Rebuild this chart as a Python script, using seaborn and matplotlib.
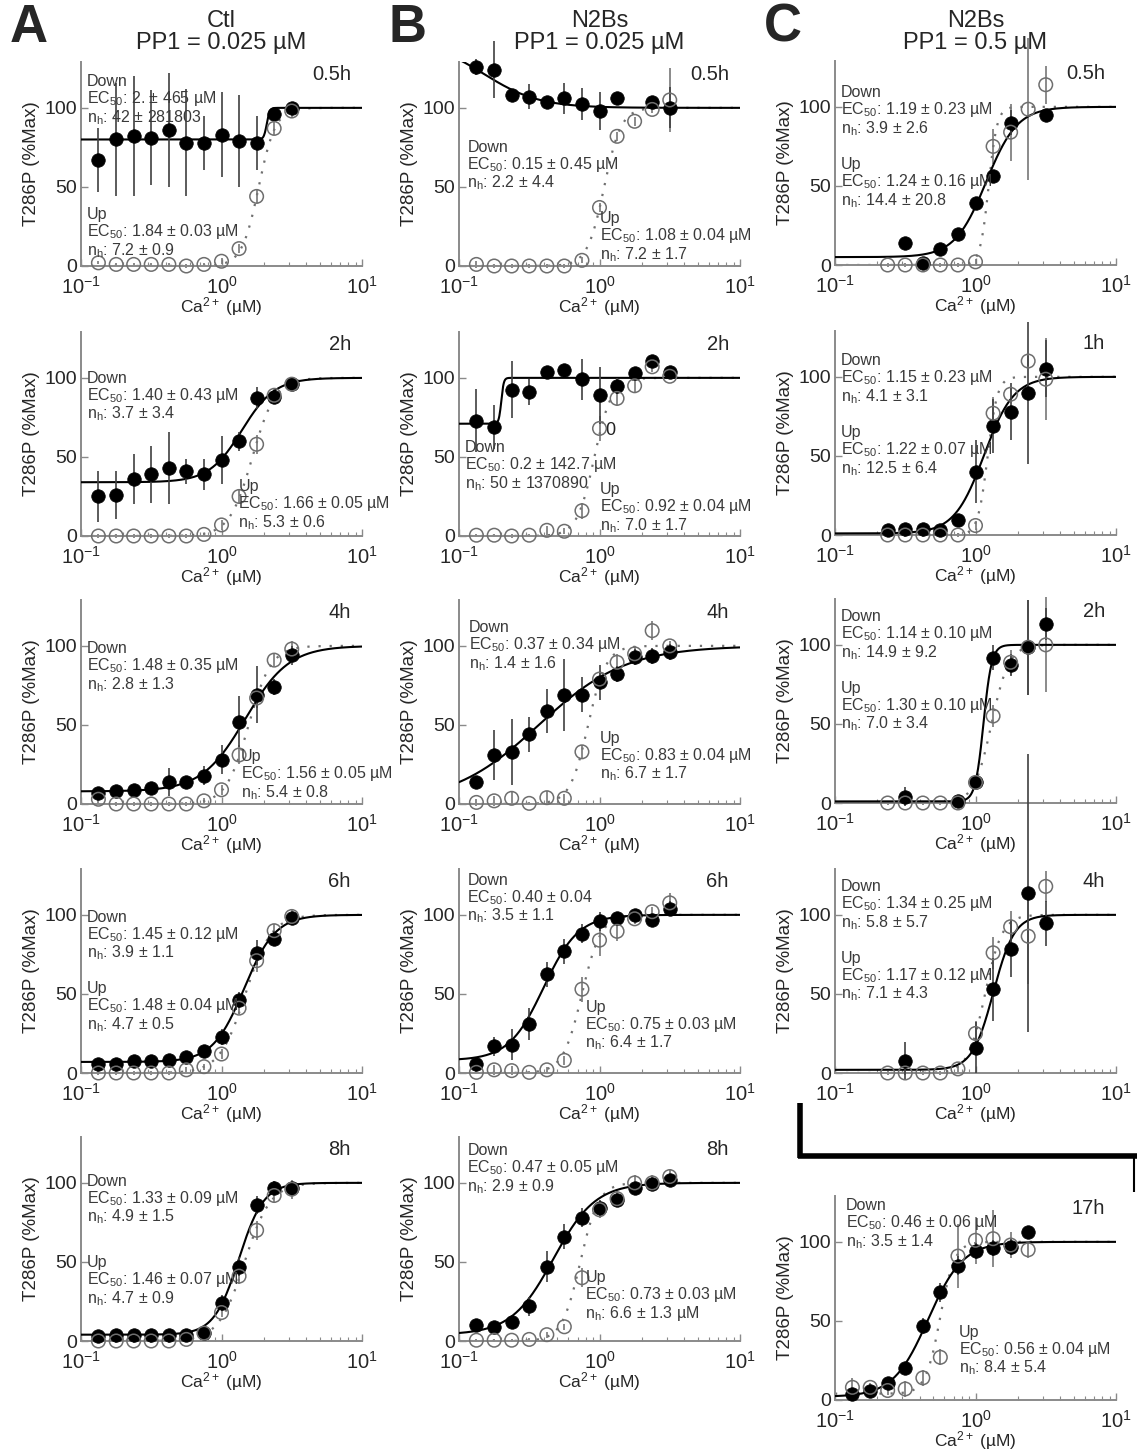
import numpy as np
import matplotlib
matplotlib.use("Agg")
import matplotlib.pyplot as plt
from matplotlib.lines import Line2D
from matplotlib.ticker import LogLocator, NullFormatter, FixedLocator
import seaborn as sns
import pandas as pd

sns.set_style("ticks")
plt.rcParams['font.family'] = ['Liberation Sans', 'DejaVu Sans']
plt.rcParams['mathtext.fontset'] = 'custom'
plt.rcParams['mathtext.rm'] = 'Liberation Sans'
plt.rcParams['mathtext.it'] = 'Liberation Sans'
plt.rcParams['mathtext.bf'] = 'Liberation Sans:bold'

nan = np.nan
# Ca2+ concentrations (uM)
CA = [0.133, 0.178, 0.237, 0.316, 0.422, 0.562, 0.750, 1.0, 1.334, 1.778, 2.371, 3.162]

# ---- Column A: Ctl, PP1 = 0.025 uM ----
A05_dn = [67, 80, 82, 81, 86, 78, 78, 83, 79, 78, 96, 100]
A05_dn_e = [20, 36, 38, 30, 36, 34, 17, 27, 29, 17, 3, 3]
A05_up = [2, 1, 1, 1, 1, 0, 1, 3, 11, 44, 87, 98]
A05_up_e = [1, 1, 1, 1, 1, 1, 1, 2, 3, 4, 4, 4]

A2_dn = [25, 26, 36, 39, 43, 41, 39, 48, 60, 87, 88, 96]
A2_dn_e = [16, 15, 16, 18, 23, 8, 10, 15, 6, 7, 3, 3]
A2_up = [0, 0, 0, 0, 0, 0, 1, 7, 25, 58, 89, 96]
A2_up_e = [1, 1, 1, 1, 1, 1, 1, 3, 4, 6, 4, 4]

A4_dn = [7, 8, 9, 10, 14, 14, 18, 28, 52, 69, 74, 94]
A4_dn_e = [2, 2, 3, 3, 9, 4, 6, 9, 16, 18, 5, 6]
A4_up = [3, 0, 0, 0, 0, 0, 2, 9, 31, 67, 91, 98]
A4_up_e = [3, 1, 1, 1, 1, 1, 2, 3, 6, 6, 4, 5]

A6_dn = [6, 6, 7.5, 7.7, 8.5, 10, 14, 23, 46, 76, 85, 98]
A6_dn_e = [2, 2, 2, 2, 2, 2, 3, 5, 5, 8, 5, 4]
A6_up = [0, 0, 0, 0, 0, 2, 4, 12, 41, 71, 90, 99]
A6_up_e = [1, 1, 1, 1, 1, 2, 2, 3, 4, 7, 4, 5]

A8_dn = [3, 4, 4, 4, 4, 4, 5, 24, 47, 86, 97, 97]
A8_dn_e = [1, 1, 1, 1, 1, 1, 2, 5, 6, 6, 4, 4]
A8_up = [0, 0, 0, 0, 0, 1, 5, 18, 41, 70, 92, 96]
A8_up_e = [1, 1, 1, 1, 1, 1, 2, 3, 5, 6, 4, 6]

# ---- Column B: N2Bs, PP1 = 0.025 uM ----
B05_dn = [126, 124, 108, 107, 104, 106, 102.5, 98, 106, nan, 103.6, 100]
B05_dn_e = [5, 18, 4, 8, 3, 10, 10, 12, 2, 0, 2, 13]
B05_up = [1, 0, 0, 0, 0, 0, 3.6, 37, 82, 91.5, 99, 105]
B05_up_e = [2, 1, 1, 1, 1, 1, 2, 3, 3, 3, 2, 20]

B2_dn = [73, 69, 92.6, 91, 104, 105, 99, 89, 95, 103, 110.5, 104]
B2_dn_e = [20, 14, 18, 8, 2, 2, 13, 18, 5, 3, 2, 2]
B2_up = [0.5, 0.5, 0, 0.5, 3.6, 3, 16, 68, 87, 95, 107, 101]
B2_up_e = [1, 1, 1, 1, 3, 2, 5, 8, 5, 4, 3, 2]

B4_dn = [14, 31, 33, 44, 59, 69, 69, 77, 82, 93, 93.6, 96]
B4_dn_e = [2, 16, 21, 11, 14, 23, 11, 11, 5, 5, 5, 5]
B4_up = [1, 2, 3.6, 0.4, 4, 3.6, 33, 79, 89.6, 95, 109.6, 100]
B4_up_e = [2, 3, 4, 1, 4, 3, 4, 5, 5, 5, 6, 3]

B6_dn = [6, 17, 18, 31, 62.5, 77, 88, 96, 98, 99.6, 97, 104]
B6_dn_e = [2, 6, 10, 10, 8, 8, 6, 6, 2, 2, 2, 5]
B6_up = [0.4, 2, 1.5, 0.4, 2, 8, 53, 84, 89.6, 97.5, 102, 107.6]
B6_up_e = [1, 3, 3, 1, 2, 3, 8, 10, 6, 3, 3, 6]

B8_dn = [10, 9, 12, 22, 47, 66, 78, 84, 89, 97, 99, 102]
B8_dn_e = [4, 3, 4, 6, 10, 8, 6, 5, 3, 3, 3, 3]
B8_up = [0.5, 0.5, 0.5, 1, 4, 9, 40, 83, 90, 100, 100, 104]
B8_up_e = [1, 1, 1, 1, 2, 2, 6, 5, 5, 5, 5, 5]

# ---- Column C: N2Bs, PP1 = 0.5 uM ----
C05_dn = [nan, nan, nan, 14, 1, 10, 19.5, 39, 56, 90, nan, 95]
C05_dn_e = [0, 0, 0, 2, 1, 2, 2, 3, 4, 8, 0, 2]
C05_up = [nan, nan, 0, 0, 0, 0, 0, 2, 75, 84, 98.5, 114]
C05_up_e = [0, 0, 1, 1, 1, 1, 1, 2, 11, 18, 45, 12]

C1_dn = [nan, nan, 3, 4, 4, 3, 9.5, 40, 69, 78, 90, 105]
C1_dn_e = [0, 0, 1, 1, 1, 1, 2, 20, 17, 18, 45, 18]
C1_up = [nan, nan, 0, 0, 0, 0, 0, 6, 77, 89, 110, 98.5]
C1_up_e = [0, 0, 1, 1, 1, 1, 1, 3, 10, 4, 3, 26]

C2_dn = [nan, nan, nan, 4, nan, nan, 1.5, 13, 92, 87, 98.5, 113]
C2_dn_e = [0, 0, 0, 6, 0, 0, 1, 5, 8, 7, 30, 10]
C2_up = [nan, nan, 0, 0, 0, 0, 0, 13, 55, 89, 98.5, 100]
C2_up_e = [0, 0, 1, 1, 1, 1, 1, 5, 7, 8, 30, 30]

C4_dn = [nan, nan, nan, 7.5, nan, nan, nan, 16, 53, 78.5, 114, 94.6]
C4_dn_e = [0, 0, 0, 12, 0, 0, 0, 16, 20, 18, 88, 14]
C4_up = [nan, nan, 0, 0, 0, 0, 2.6, 25, 76, 92.5, 86.5, 118]
C4_up_e = [0, 0, 1, 1, 1, 1, 2, 8, 10, 10, 30, 10]

C17_dn = [4, 6, 11, 20, 47, 68, 85, 94, 96, 97, 106, nan]
C17_dn_e = [2, 2, 3, 3, 5, 6, 6, 5, 5, 5, 2, 0]
C17_up = [8, 8, 6, 7, 14, 27, 91, 101, 102, 98, 95, nan]
C17_up_e = [6, 3, 3, 5, 5, 5, 20, 15, 18, 8, 5, 0]

# Hill fit parameters: (bottom_down, EC50_down, nH_down, bottom_up, EC50_up, nH_up)
A05_fit = (80, 2.1, 42, 0, 1.84, 7.2)
A2_fit = (34, 1.40, 3.7, 0, 1.66, 5.3)
A4_fit = (8, 1.48, 2.8, 0, 1.56, 5.4)
A6_fit = (7, 1.45, 3.9, 0, 1.48, 4.7)
A8_fit = (4, 1.33, 4.9, 0, 1.46, 4.7)
B05_fit = (143, 0.15, 2.2, 0, 1.08, 7.2)
B2_fit = (71, 0.2, 50, 0, 0.92, 7.0)
B4_fit = (0, 0.37, 1.4, 0, 0.83, 6.7)
B6_fit = (8, 0.40, 3.5, 0, 0.75, 6.4)
B8_fit = (4, 0.47, 2.9, 0, 0.73, 6.6)
C05_fit = (5, 1.19, 3.9, 0, 1.24, 14.4)
C1_fit = (1, 1.15, 4.1, 0, 1.22, 12.5)
C2_fit = (1, 1.14, 14.9, 0, 1.30, 7.0)
C4_fit = (2, 1.34, 5.8, 0, 1.17, 7.1)
C17_fit = (2, 0.46, 3.5, 4, 0.56, 8.4)

# Annotation strings: (EC50 down, nH down, EC50 up, nH up)
A05_txt = ("2. ± 465 µM", "42 ± 281803", "1.84 ± 0.03 µM", "7.2 ± 0.9")
A2_txt = ("1.40 ± 0.43 µM", "3.7 ± 3.4", "1.66 ± 0.05 µM", "5.3 ± 0.6")
A4_txt = ("1.48 ± 0.35 µM", "2.8 ± 1.3", "1.56 ± 0.05 µM", "5.4 ± 0.8")
A6_txt = ("1.45 ± 0.12 µM", "3.9 ± 1.1", "1.48 ± 0.04 µM", "4.7 ± 0.5")
A8_txt = ("1.33 ± 0.09 µM", "4.9 ± 1.5", "1.46 ± 0.07 µM", "4.7 ± 0.9")
B05_txt = ("0.15 ± 0.45 µM", "2.2 ± 4.4", "1.08 ± 0.04 µM", "7.2 ± 1.7")
B2_txt = ("0.2 ± 142.7 µM", "50 ± 1370890", "0.92 ± 0.04 µM", "7.0 ± 1.7")
B4_txt = ("0.37 ± 0.34 µM", "1.4 ± 1.6", "0.83 ± 0.04 µM", "6.7 ± 1.7")
B6_txt = ("0.40 ± 0.04", "3.5 ± 1.1", "0.75 ± 0.03 µM", "6.4 ± 1.7")
B8_txt = ("0.47 ± 0.05 µM", "2.9 ± 0.9", "0.73 ± 0.03 µM", "6.6 ± 1.3 µM")
C05_txt = ("1.19 ± 0.23 µM", "3.9 ± 2.6", "1.24 ± 0.16 µM", "14.4 ± 20.8")
C1_txt = ("1.15 ± 0.23 µM", "4.1 ± 3.1", "1.22 ± 0.07 µM", "12.5 ± 6.4")
C2_txt = ("1.14 ± 0.10 µM", "14.9 ± 9.2", "1.30 ± 0.10 µM", "7.0 ± 3.4")
C4_txt = ("1.34 ± 0.25 µM", "5.8 ± 5.7", "1.17 ± 0.12 µM", "7.1 ± 4.3")
C17_txt = ("0.46 ± 0.06 µM", "3.5 ± 1.4", "0.56 ± 0.04 µM", "8.4 ± 5.4")

TIMES_A = ["0.5h", "2h", "4h", "6h", "8h"]
TIMES_B = ["0.5h", "2h", "4h", "6h", "8h"]
TIMES_C = ["0.5h", "1h", "2h", "4h", "17h"]
TITLES = ["Ctl\nPP1 = 0.025 µM", "N2Bs\nPP1 = 0.025 µM", "N2Bs\nPP1 = 0.5 µM"]
LETTERS = ["A", "B", "C"]

# ---------------- layout (pixels) ----------------
W, H = 1137, 1449
fig = plt.figure(figsize=(W / 100, H / 100), dpi=100)

col_left = [81, 459, 835]
col_w = 281
ax_h = 204
rows_AB = [266, 536, 804, 1073, 1341]
rows_C = [265, 535, 803, 1073, 1400]

# text positions (axes fraction): (down_x, down_y, up_x, up_y)
POS = {
    "A05": (0.02, 0.94, 0.02, 0.29),
    "A2": (0.02, 0.81, 0.56, 0.28),
    "A4": (0.02, 0.80, 0.57, 0.27),
    "A6": (0.02, 0.80, 0.02, 0.45),
    "A8": (0.02, 0.82, 0.02, 0.42),
    "B05": (0.03, 0.62, 0.50, 0.27),
    "B2": (0.02, 0.47, 0.50, 0.265),
    "B4": (0.035, 0.90, 0.50, 0.36),
    "B6": (0.03, 0.98, 0.45, 0.36),
    "B8": (0.03, 0.97, 0.45, 0.35),
    "C05": (0.02, 0.88, 0.02, 0.53),
    "C1": (0.02, 0.89, 0.02, 0.54),
    "C2": (0.02, 0.95, 0.02, 0.60),
    "C4": (0.02, 0.95, 0.02, 0.60),
    "C17": (0.04, 0.99, 0.44, 0.37),
}

panels = {
    "A05": (A05_dn, A05_dn_e, A05_up, A05_up_e, A05_fit, A05_txt),
    "A2": (A2_dn, A2_dn_e, A2_up, A2_up_e, A2_fit, A2_txt),
    "A4": (A4_dn, A4_dn_e, A4_up, A4_up_e, A4_fit, A4_txt),
    "A6": (A6_dn, A6_dn_e, A6_up, A6_up_e, A6_fit, A6_txt),
    "A8": (A8_dn, A8_dn_e, A8_up, A8_up_e, A8_fit, A8_txt),
    "B05": (B05_dn, B05_dn_e, B05_up, B05_up_e, B05_fit, B05_txt),
    "B2": (B2_dn, B2_dn_e, B2_up, B2_up_e, B2_fit, B2_txt),
    "B4": (B4_dn, B4_dn_e, B4_up, B4_up_e, B4_fit, B4_txt),
    "B6": (B6_dn, B6_dn_e, B6_up, B6_up_e, B6_fit, B6_txt),
    "B8": (B8_dn, B8_dn_e, B8_up, B8_up_e, B8_fit, B8_txt),
    "C05": (C05_dn, C05_dn_e, C05_up, C05_up_e, C05_fit, C05_txt),
    "C1": (C1_dn, C1_dn_e, C1_up, C1_up_e, C1_fit, C1_txt),
    "C2": (C2_dn, C2_dn_e, C2_up, C2_up_e, C2_fit, C2_txt),
    "C4": (C4_dn, C4_dn_e, C4_up, C4_up_e, C4_fit, C4_txt),
    "C17": (C17_dn, C17_dn_e, C17_up, C17_up_e, C17_fit, C17_txt),
}
keys = [["A05", "A2", "A4", "A6", "A8"],
        ["B05", "B2", "B4", "B6", "B8"],
        ["C05", "C1", "C2", "C4", "C17"]]
times = [TIMES_A, TIMES_B, TIMES_C]

AX_COL = "#8a8a8a"
TXT_COL = "#3a3a3a"


def hill(x, b, t, ec, n):
    return b + (t - b) * x ** n / (x ** n + ec ** n)


xfit = np.logspace(-1, 1, 600)

for ci in range(3):
    rows = rows_C if ci == 2 else rows_AB
    for ri in range(5):
        key = keys[ci][ri]
        dn, dn_e, up, up_e, fit, txt = panels[key]
        y0 = rows[ri]
        ax = fig.add_axes([col_left[ci] / W, (H - y0) / H, col_w / W, ax_h / H])
        ax.set_xscale("log")

        df = pd.DataFrame({"ca": CA, "down": dn, "down_e": dn_e, "up": up, "up_e": up_e})

        # fits
        bd, ecd, nd, bu, ecu, nu = fit
        fdf = pd.DataFrame({"x": xfit,
                            "down": hill(xfit, bd, 100, ecd, nd),
                            "up": hill(xfit, bu, 100, ecu, nu)})
        sns.lineplot(data=fdf, x="x", y="up", ax=ax, color="#707070", lw=1.6,
                     linestyle=(0, (1, 4)), zorder=2)
        sns.lineplot(data=fdf, x="x", y="down", ax=ax, color="black", lw=1.5, zorder=3)

        # error bars
        ax.errorbar(df["ca"], df["up"], yerr=df["up_e"], fmt="none", ecolor="#777777",
                    elinewidth=1.2, capsize=0, zorder=2, clip_on=False)
        ax.errorbar(df["ca"], df["down"], yerr=df["down_e"], fmt="none", ecolor="#404040",
                    elinewidth=1.2, capsize=0, zorder=3, clip_on=False)

        # markers
        sns.scatterplot(data=df, x="ca", y="down", ax=ax, color="black", s=95,
                        edgecolor="black", linewidth=0.5, zorder=4, clip_on=False)
        sns.scatterplot(data=df, x="ca", y="up", ax=ax, facecolor="none", s=95,
                        edgecolor="#6e6e6e", linewidth=1.1, zorder=5, clip_on=False)

        ax.set_xlim(0.1, 10)
        ax.set_ylim(0, 129)
        ax.set_yticks([0, 50, 100])
        ax.xaxis.set_major_locator(FixedLocator([0.1, 1, 10]))
        ax.xaxis.set_minor_locator(LogLocator(base=10, subs=np.arange(2, 10)))
        ax.xaxis.set_minor_formatter(NullFormatter())
        for s in ["top", "right"]:
            ax.spines[s].set_visible(False)
        for s in ["left", "bottom"]:
            ax.spines[s].set_color(AX_COL)
            ax.spines[s].set_linewidth(1.4)
        ax.tick_params(axis="y", which="major", direction="in", length=5,
                       width=1.0, color=AX_COL, labelsize=14, pad=3)
        ax.tick_params(axis="x", which="major", direction="in", length=5,
                       width=1.0, color=AX_COL, labelsize=14.5, pad=7)
        ax.tick_params(axis="x", which="minor", direction="in", length=3,
                       width=0.8, color=AX_COL)
        ax.set_xlabel("Ca$^{2+}$ (µM)", fontsize=12.5, labelpad=-2)
        ax.set_ylabel("T286P (%Max)", fontsize=13.5, labelpad=3)

        ax.text(0.96, 0.94, times[ci][ri], transform=ax.transAxes, ha="right",
                va="center", fontsize=14.5)
        dx, dy, ux, uy = POS[key]
        ax.text(dx, dy, "Down\nEC$_{50}$: " + txt[0] + "\nn$_{h}$: " + txt[1],
                transform=ax.transAxes, ha="left", va="top", fontsize=11.5,
                color=TXT_COL, linespacing=1.0, zorder=6)
        ax.text(ux, uy, "Up\nEC$_{50}$: " + txt[2] + "\nn$_{h}$: " + txt[3],
                transform=ax.transAxes, ha="left", va="top", fontsize=11.5,
                color=TXT_COL, linespacing=1.0, zorder=6)
        if key == "B2":
            ax.text(1.1, 67, "0", ha="left", va="center", fontsize=13, color="#222222")

    # titles and panel letters
    cx = (col_left[ci] + col_w / 2) / W
    fig.text(cx, 1 - 32 / H, TITLES[ci], ha="center", va="center", fontsize=17,
             linespacing=0.95)
    fig.text((col_left[ci] - 52) / W, 1 - 28 / H, LETTERS[ci], ha="center",
             va="center", fontsize=38, fontweight="bold")

# thick separator lines (L shape) in column C
fig.add_artist(Line2D([798 / W, 1137 / W], [1 - 1156 / H, 1 - 1156 / H],
                      color="black", lw=4, solid_capstyle="butt",
                      transform=fig.transFigure))
fig.add_artist(Line2D([800 / W, 800 / W], [1 - 1103 / H, 1 - 1158 / H],
                      color="black", lw=4, solid_capstyle="butt",
                      transform=fig.transFigure))
fig.add_artist(Line2D([1134 / W, 1134 / W], [1 - 1156 / H, 1 - 1192 / H],
                      color="black", lw=1.5, solid_capstyle="butt",
                      transform=fig.transFigure))

fig.savefig("out.png", dpi=100)
